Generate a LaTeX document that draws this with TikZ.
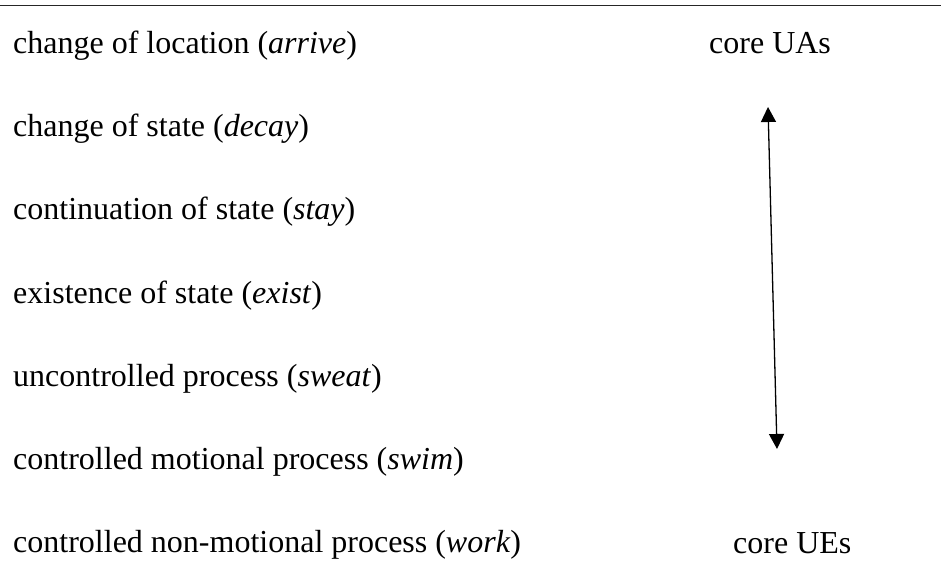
\documentclass[tikz,border=0pt]{standalone}
\usepackage{fontspec}
\setmainfont{Liberation Serif}
\usetikzlibrary{arrows.meta}
\tikzset{
  x=1pt, y=-1pt,
  rowtext/.style={anchor=base west, inner sep=0pt, font=\fontsize{32}{38}\selectfont},
  sidetext/.style={anchor=base west, inner sep=0pt, font=\fontsize{32}{38}\selectfont},
  rule/.style={line width=1.8pt, draw=black!85},
  scalearrow/.style={line width=1.3pt, {Triangle[width=15pt,length=15pt]}-{Triangle[width=15pt,length=15pt]}}
}
\begin{document}
\begin{tikzpicture}
\useasboundingbox (0,0) rectangle (941,569);
\coordinate (ruleL) at (0,5.5);
\coordinate (ruleR) at (941,5.5);
\draw[rule] (ruleL) -- (ruleR);
\node[rowtext] (r1) at (13,54) {change of location (\textit{arrive})};
\node[rowtext] (r2) at (13,137) {change of state (\textit{decay})};
\node[rowtext] (r3) at (13,220) {continuation of state (\textit{stay})};
\node[rowtext] (r4) at (13,303) {existence of state (\textit{exist})};
\node[rowtext] (r5) at (13,386) {uncontrolled process (\textit{sweat})};
\node[rowtext] (r6) at (13,469) {controlled motional process (\textit{swim})};
\node[rowtext] (r7) at (13,552) {controlled non-motional process (\textit{work})};
\node[sidetext] (ua) at (709,54) {core UAs};
\node[sidetext] (ue) at (733,553) {core UEs};
\coordinate (atop) at (768,107);
\coordinate (abot) at (777,449);
\draw[scalearrow] (abot) -- (atop);
\end{tikzpicture}
\end{document}
